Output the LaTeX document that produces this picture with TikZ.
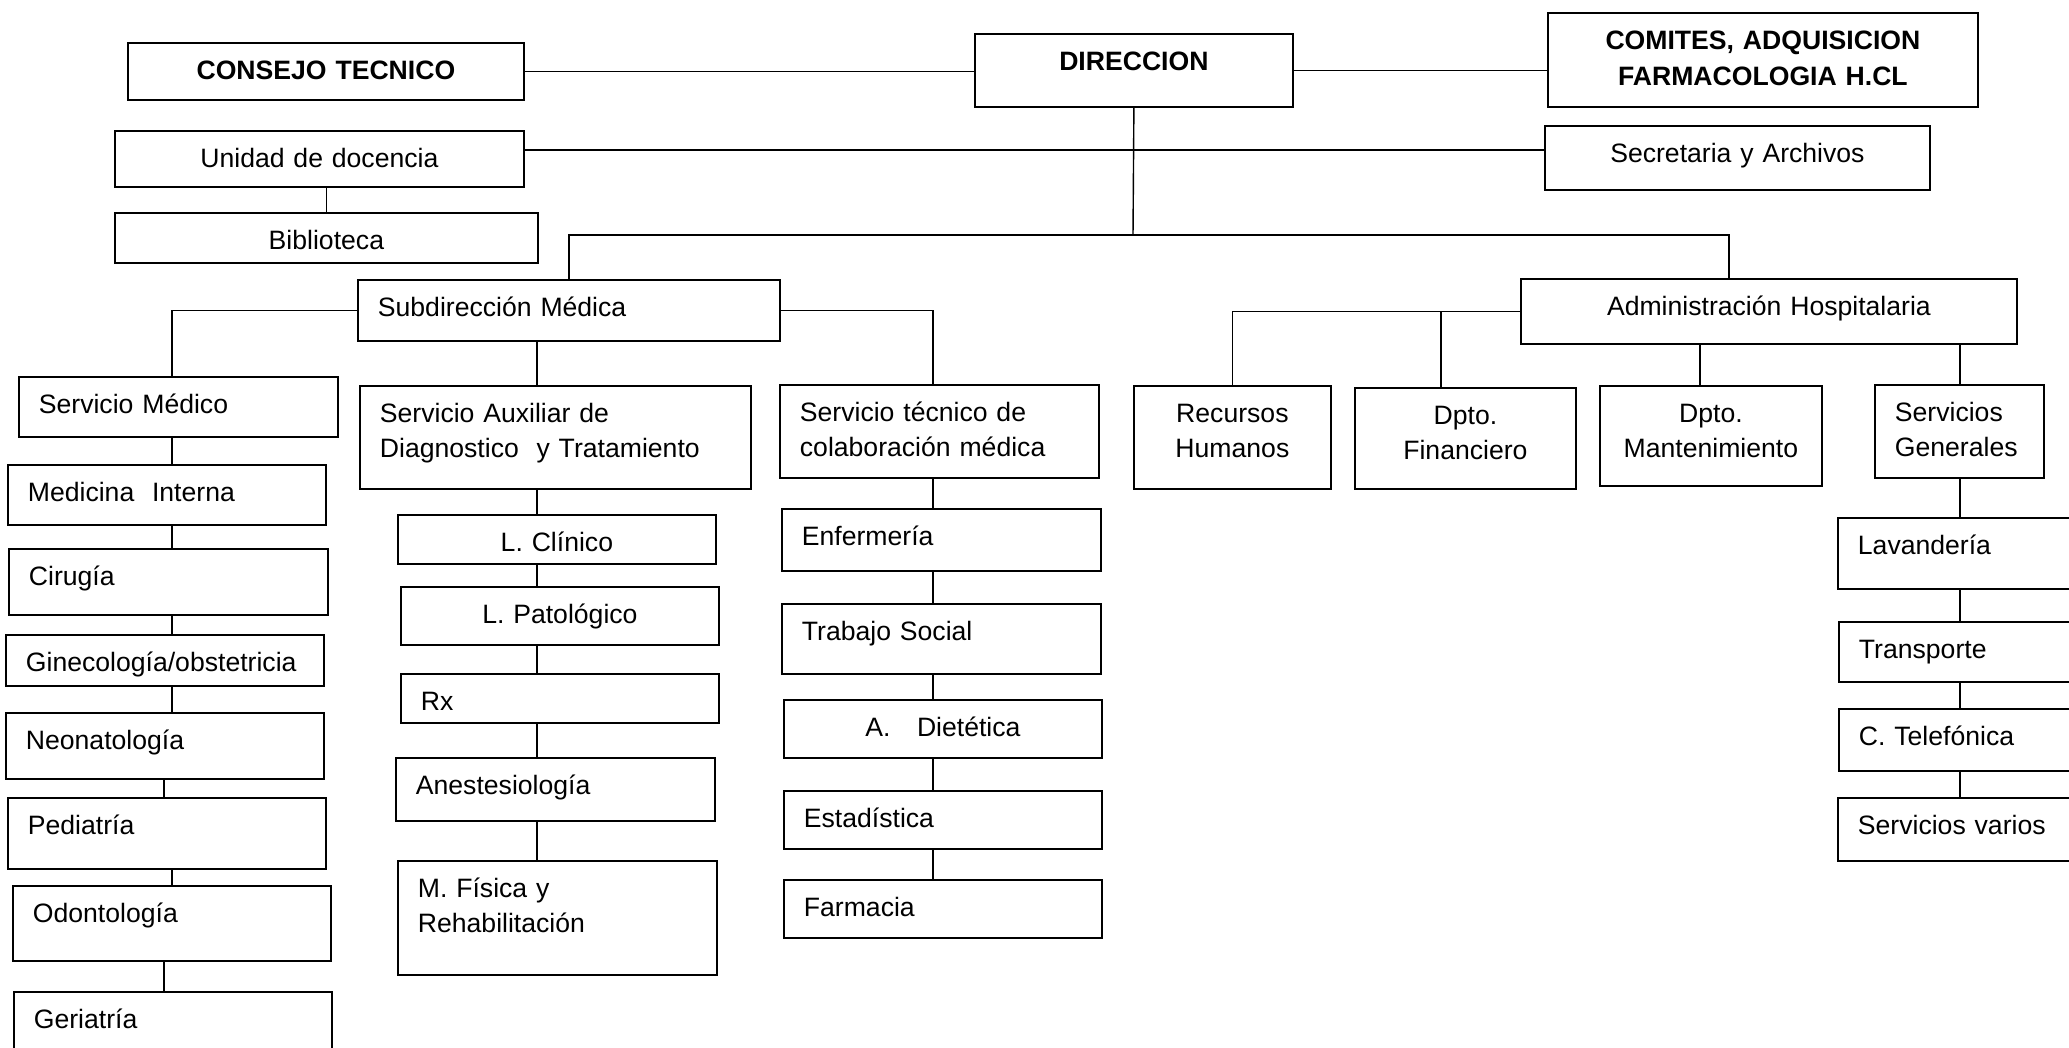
\documentclass[tikz,border=0pt]{standalone}
\usepackage{fontspec}
\setmainfont{Liberation Sans}

\begin{document}
\begin{tikzpicture}[
    x=1pt, y=-1pt,
    unitbox/.style={rectangle, draw=black, line width=1.8pt, anchor=north west, inner xsep=20pt, inner ysep=0pt, text height=37pt, align=left, font=\fontsize{26.6}{35}\selectfont},
    headbox/.style={unitbox, align=center, font=\fontsize{26.6}{36}\selectfont\bfseries},
    link/.style={line width=1.4pt, black}
]
\useasboundingbox (0,0) rectangle (2069,1048);

% top level
\node[headbox, text width=356pt, text depth=20pt] (ct) at (127,42) {CONSEJO TECNICO};
\node[headbox, text width=278pt, text depth=36pt] (dir) at (974,33) {DIRECCION};
\node[headbox, text width=390pt, text depth=57pt] (com) at (1547,12) {COMITES, ADQUISICION\\FARMACOLOGIA H.CL};
\node[unitbox, align=center, text width=369pt, text depth=19pt] (ud) at (114,130) {Unidad de docencia};
\node[unitbox, align=center, text width=383pt, text depth=13pt] (bib) at (114,212) {Biblioteca};
\node[unitbox, align=center, text width=345pt, text depth=27pt] (sec) at (1544,125) {Secretaria y Archivos};
\node[unitbox, text width=382pt, text depth=24pt] (sub) at (357,279) {Subdirección Médica};
\node[unitbox, align=center, text width=456pt, text depth=28pt] (adm) at (1520,278) {Administración Hospitalaria};

% services
\node[unitbox, text width=279pt, text depth=23pt] (smed) at (18,376) {Servicio Médico};
\node[unitbox, text width=351pt, text depth=66pt] (saux) at (359,385) {Servicio Auxiliar de\\Diagnostico\ \ y Tratamiento};
\node[unitbox, text width=279pt, text depth=56pt] (stec) at (779,384) {Servicio técnico de\\colaboración médica};
\node[unitbox, align=center, text width=157pt, text depth=66pt] (rh) at (1133,385) {Recursos\\Humanos};
\node[unitbox, align=center, text width=181pt, text depth=64pt] (fin) at (1354,387) {Dpto.\\Financiero};
\node[unitbox, align=center, text width=182pt, text depth=63pt] (mant) at (1599,385) {Dpto.\\Mantenimiento};
\node[unitbox, text width=129pt, text depth=56pt] (sg) at (1874,384) {Servicios\\Generales};

% servicio medico
\node[unitbox, text width=278pt, text depth=23pt] (mi) at (7,464) {Medicina\ \ Interna};
\node[unitbox, text width=279pt, text depth=29pt] (cir) at (8,548) {Cirugía};
\node[unitbox, text width=278pt, text depth=14pt] (gin) at (5,634) {Ginecología/obstetricia};
\node[unitbox, text width=278pt, text depth=29pt] (neo) at (5,712) {Neonatología};
\node[unitbox, text width=278pt, text depth=34pt] (ped) at (7,797) {Pediatría};
\node[unitbox, text width=278pt, text depth=38pt] (odo) at (12,885) {Odontología};
\node[unitbox, text width=278pt, text depth=50pt] (ger) at (13,991) {Geriatría};

% servicio auxiliar
\node[unitbox, align=center, text width=278pt, text depth=12pt] (lcl) at (397,514) {L. Clínico};
\node[unitbox, align=center, text width=278pt, text depth=21pt] (lpa) at (400,586) {L. Patológico};
\node[unitbox, text width=278pt, text depth=12pt] (rx) at (400,673) {Rx};
\node[unitbox, text width=279pt, text depth=26pt] (ane) at (395,757) {Anestesiología};
\node[unitbox, text width=279pt, text depth=77pt] (mfr) at (397,860) {M. Física y\\Rehabilitación};

% servicio tecnico
\node[unitbox, text width=279pt, text depth=25pt] (enf) at (781,508) {Enfermería};
\node[unitbox, text width=279pt, text depth=33pt] (tso) at (781,603) {Trabajo Social};
\node[unitbox, align=center, text width=278pt, text depth=21pt] (die) at (783,699) {A.\ \ \ Dietética};
\node[unitbox, text width=278pt, text depth=21pt] (est) at (783,790) {Estadística};
\node[unitbox, text width=278pt, text depth=21pt] (far) at (783,879) {Farmacia};

% servicios generales
\node[unitbox, text width=220pt, text depth=34pt] (lav) at (1837,517) {Lavandería};
\node[unitbox, text width=220pt, text depth=23pt] (tra) at (1838,621) {Transporte};
\node[unitbox, text width=220pt, text depth=25pt] (tel) at (1838,708) {C. Telefónica};
\node[unitbox, text width=220pt, text depth=26pt] (sva) at (1837,797) {Servicios varios};

\coordinate (bus) at (1133,235);
\coordinate (colmed) at (172,0);
\coordinate (colmed2) at (164,0);
\coordinate (colaux) at (537,0);
\coordinate (coltec) at (933,0);
\coordinate (colfin) at (1441,0);
\coordinate (colmant) at (1700,0);
\coordinate (colgen) at (1960,0);

\draw[link] (ct.east) -- (ct.east -| dir.west);
\draw[link] (dir.east) -- (dir.east -| com.west);
\draw[link] ([yshift=9pt]ud.east) -- ([yshift=9pt]ud.east -| sec.west);
\draw[link] (bib.north) -- (bib.north |- ud.south);
\draw[link] (dir.south) -- (bus);
\draw[link] (sub.north) |- (bus) -| ([xshift=-40pt]adm.north);

\draw[link] (sub.west) -| (colmed |- smed.north);
\draw[link] (sub.south -| colaux) -- (colaux |- saux.north);
\draw[link] (sub.east) -| (coltec |- stec.north);
\draw[link] (adm.west) -| (rh.north);
\draw[link] (adm.west -| colfin) -- (colfin |- fin.north);
\draw[link] (adm.south -| colmant) -- (colmant |- mant.north);
\draw[link] (adm.south -| colgen) -- (colgen |- sg.north);

\draw[link] (smed.south -| colmed) -- (colmed |- mi.north);
\draw[link] (mi.south -| colmed) -- (colmed |- cir.north);
\draw[link] (cir.south -| colmed) -- (colmed |- gin.north);
\draw[link] (gin.south -| colmed) -- (colmed |- neo.north);
\draw[link] (neo.south -| colmed2) -- (colmed2 |- ped.north);
\draw[link] (ped.south -| colmed) -- (colmed |- odo.north);
\draw[link] (odo.south -| colmed2) -- (colmed2 |- ger.north);

\draw[link] (saux.south -| colaux) -- (colaux |- lcl.north);
\draw[link] (lcl.south -| colaux) -- (colaux |- lpa.north);
\draw[link] (lpa.south -| colaux) -- (colaux |- rx.north);
\draw[link] (rx.south -| colaux) -- (colaux |- ane.north);
\draw[link] (ane.south -| colaux) -- (colaux |- mfr.north);

\draw[link] (stec.south -| coltec) -- (coltec |- enf.north);
\draw[link] (enf.south -| coltec) -- (coltec |- tso.north);
\draw[link] (tso.south -| coltec) -- (coltec |- die.north);
\draw[link] (die.south -| coltec) -- (coltec |- est.north);
\draw[link] (est.south -| coltec) -- (coltec |- far.north);

\draw[link] (sg.south -| colgen) -- (colgen |- lav.north);
\draw[link] (lav.south -| colgen) -- (colgen |- tra.north);
\draw[link] (tra.south -| colgen) -- (colgen |- tel.north);
\draw[link] (tel.south -| colgen) -- (colgen |- sva.north);
\end{tikzpicture}
\end{document}
